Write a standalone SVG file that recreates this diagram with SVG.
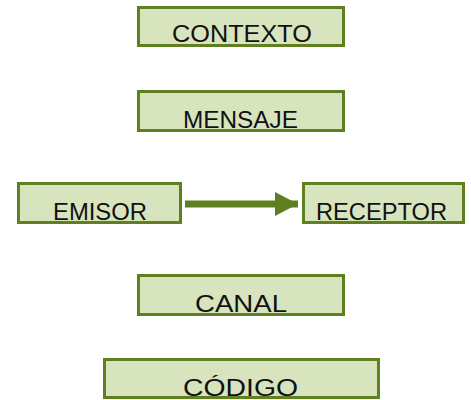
<svg xmlns="http://www.w3.org/2000/svg" width="471" height="400" viewBox="0 0 471 400">
<style>
.box{fill:#d7e4bd;stroke:#5e8020;stroke-width:3}
.lbl{font-family:"Liberation Sans",Arial,sans-serif;font-size:23px;fill:#111;text-anchor:middle}
.conn{stroke:#5e8020;stroke-width:7;fill:none}
</style>
<defs>
<marker id="ah" markerUnits="userSpaceOnUse" markerWidth="24" markerHeight="24" refX="23" refY="12" orient="auto">
<path d="M0,0 L23,12 L0,24 Z" fill="#5e8020"/>
</marker>
</defs>
<rect width="471" height="400" fill="#fff"/>
<g id="contexto"><rect class="box" x="138.5" y="7.5" width="205" height="38"/><text class="lbl" x="242" y="42" textLength="140" lengthAdjust="spacingAndGlyphs">CONTEXTO</text></g>
<g id="mensaje"><rect class="box" x="138.5" y="91.5" width="205" height="39"/><text class="lbl" x="240.5" y="128" textLength="115" lengthAdjust="spacingAndGlyphs">MENSAJE</text></g>
<g id="emisor"><rect class="box" x="18.5" y="183.5" width="162" height="39"/><text class="lbl" x="100" y="220" textLength="94" lengthAdjust="spacingAndGlyphs">EMISOR</text></g>
<g id="receptor"><rect class="box" x="303.5" y="183.5" width="160" height="39"/><text class="lbl" x="381.5" y="220" textLength="131" lengthAdjust="spacingAndGlyphs">RECEPTOR</text></g>
<g id="canal"><rect class="box" x="138.5" y="275.5" width="205" height="39"/><text class="lbl" x="241" y="312" textLength="92" lengthAdjust="spacingAndGlyphs">CANAL</text></g>
<g id="codigo"><rect class="box" x="104.5" y="359.5" width="274" height="38"/><text class="lbl" x="240.5" y="396" textLength="115" lengthAdjust="spacingAndGlyphs">CÓDIGO</text></g>
<g id="connectors"><line class="conn" x1="185" y1="204" x2="298" y2="204" marker-end="url(#ah)"/></g>
</svg>
